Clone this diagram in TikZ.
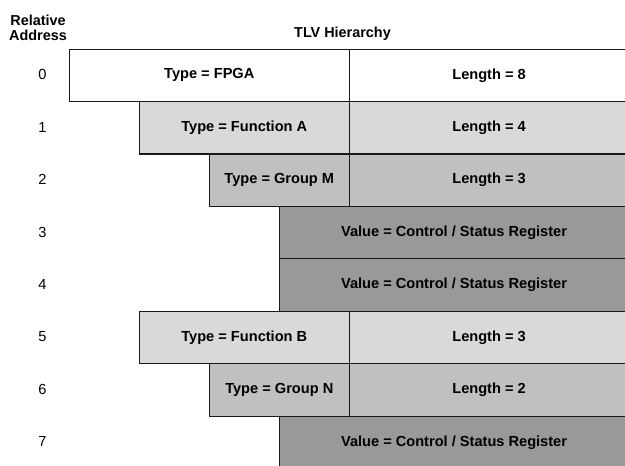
\documentclass[tikz,border=0pt]{standalone}
\usepackage{fontspec}
\setmainfont{Liberation Sans}
\definecolor{fnfill}{HTML}{D9D9D9}
\definecolor{grpfill}{HTML}{C0C0C0}
\definecolor{valfill}{HTML}{999999}
\begin{document}
\begin{tikzpicture}[x=1pt,y=-1pt,
  cell/.style={draw=black!90, line width=1.1pt, inner sep=0pt,
    minimum height=52.45pt, anchor=north west,
    font=\fontsize{14.6}{17.5}\selectfont\bfseries},
  topcell/.style={cell, fill=white},
  fncell/.style={cell, fill=fnfill},
  grpcell/.style={cell, fill=grpfill},
  valcell/.style={cell, fill=valfill, minimum width=349pt},
  addr/.style={font=\fontsize{14.6}{17.5}\selectfont, inner sep=0pt},
  hdr/.style={font=\fontsize{14.4}{17}\selectfont\bfseries, inner sep=0pt, anchor=base}]
\useasboundingbox (0,0) rectangle (625,466);
\clip (0,0) rectangle (625,466);

% column headers
\node[hdr] (relA) at (38,25) {Relative};
\node[hdr] (relB) at (38,40.7) {Address};
\node[hdr] (tlv) at (342.5,37) {TLV Hierarchy};

% row 0: FPGA
\node[topcell, minimum width=280.5pt] (t0) at (68.5,48.5) {Type = FPGA};
\node[topcell, minimum width=279pt] (l0) at (349,48.5) {Length = 8};
% row 1: Function A
\node[fncell, minimum width=210.5pt] (t1) at (138.5,100.95) {Type = Function A};
\node[fncell, minimum width=279pt] (l1) at (349,100.95) {Length = 4};
% row 2: Group M
\node[grpcell, minimum width=140.5pt] (t2) at (208.5,153.4) {Type = Group M};
\node[grpcell, minimum width=279pt] (l2) at (349,153.4) {Length = 3};
% rows 3-4: values
\node[valcell] (v3) at (279,205.85) {Value = Control / Status Register};
\node[valcell] (v4) at (279,258.3) {Value = Control / Status Register};
% row 5: Function B
\node[fncell, minimum width=210.5pt] (t5) at (138.5,310.75) {Type = Function B};
\node[fncell, minimum width=279pt] (l5) at (349,310.75) {Length = 3};
% row 6: Group N
\node[grpcell, minimum width=140.5pt] (t6) at (208.5,363.2) {Type = Group N};
\node[grpcell, minimum width=279pt] (l6) at (349,363.2) {Length = 2};
% row 7: value
\node[valcell] (v7) at (279,415.65) {Value = Control / Status Register};

% relative addresses
\foreach \i in {0,...,7}
  \node[addr] (a\i) at (42.5,{48.5+52.45*\i+26.2}) {\i};
\end{tikzpicture}
\end{document}
